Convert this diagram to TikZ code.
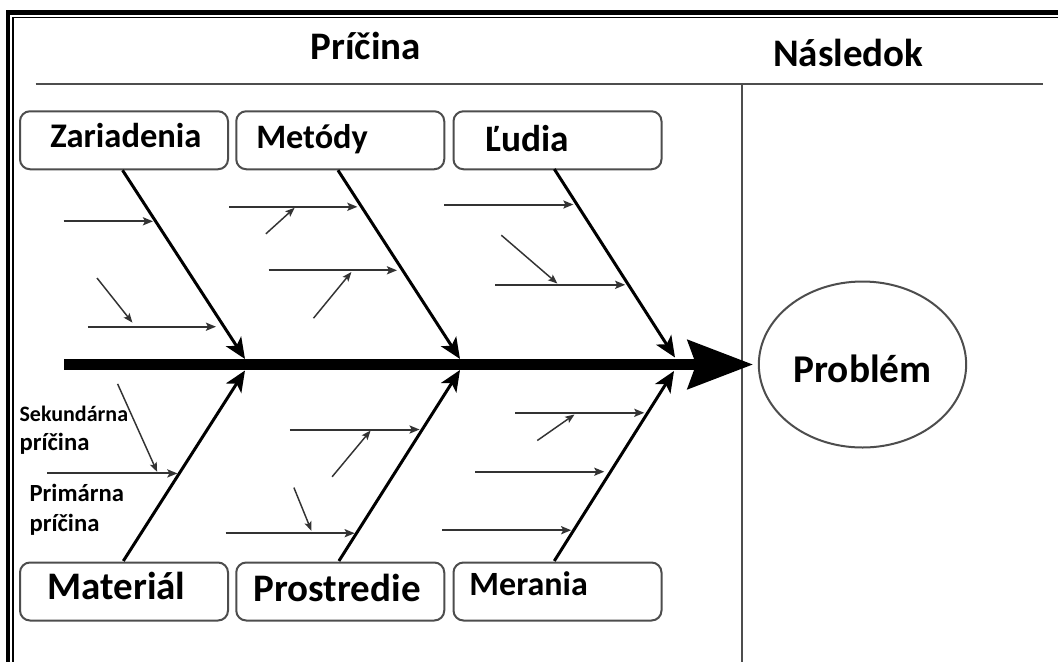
\documentclass[tikz,border=0pt]{standalone}
\usepackage{fontspec}
\setmainfont{Carlito}
\usetikzlibrary{arrows.meta,shapes.geometric}
\definecolor{boxgray}{HTML}{4D4D4D}
\definecolor{subgray}{HTML}{333333}
\begin{document}
\begin{tikzpicture}[x=0.75pt,y=-0.75pt,
  box/.style={draw=boxgray,line width=1.5pt,rounded corners=7.5pt,minimum width=156pt,minimum height=43.5pt,inner sep=0pt},
  lbl/.style={anchor=base west,inner sep=0pt,font=\bfseries},
  spine/.style={line width=2.25pt,-{Stealth[length=15.75pt,width=13.5pt,inset=4pt]}},
  sub/.style={draw=subgray,line width=1.5pt,-{Stealth[length=7.5pt,width=6pt,inset=1.5pt]}},
  sec/.style={draw=subgray,line width=1.1pt,-{Stealth[length=7pt,width=5.5pt,inset=1.5pt]}},
  rule/.style={draw=boxgray,line width=1.5pt}]
\useasboundingbox (0,0) rectangle (1058,662);
\fill[white] (0,0) rectangle (1058,662);
% frame
\draw[line width=3pt] (8,10) -- (8,662);
\draw[line width=3.75pt] (6,12.5) -- (1058,12.5);
\draw[line width=1.1pt] (13,17) -- (13,662);
\draw[line width=1.1pt] (12.3,17.5) -- (1058,17.5);
% headings
\node[anchor=base,inner sep=0pt,font=\bfseries\fontsize{29.25pt}{30pt}\selectfont] (pricina) at (365.7,59) {Príčina};
\node[anchor=base,inner sep=0pt,font=\bfseries\fontsize{29.25pt}{30pt}\selectfont] (nasledok) at (848.2,66.7) {Následok};
\coordinate (hl) at (35.5,84.3);
\coordinate (hr) at (1043,84.3);
\coordinate (vt) at (742,84.3);
\coordinate (vb) at (742,662);
\draw[rule] (hl) -- (hr);
\draw[rule] (vt) -- (vb);
% boxes
\node[box] (bZar) at (124,140.25) {};
\node[box] (bMet) at (340.25,140.25) {};
\node[box] (bLud) at (557.5,140.25) {};
\node[box] (bMat) at (124,591.5) {};
\node[box] (bPro) at (340.25,591.5) {};
\node[box] (bMer) at (557.5,591.5) {};
\node[lbl,font=\bfseries\fontsize{25.9pt}{27pt}\selectfont] (tZarl) at (50,147.5) {Zariadenia};
\node[lbl,font=\bfseries\fontsize{25.7pt}{27pt}\selectfont] (tMetl) at (256,148.5) {Metódy};
\node[lbl,font=\bfseries\fontsize{28pt}{29pt}\selectfont] (tLudl) at (485,151) {Ľudia};
\node[lbl,font=\bfseries\fontsize{29.25pt}{30pt}\selectfont] (tMatl) at (47.3,599.5) {Materiál};
\node[lbl,font=\bfseries\fontsize{29.25pt}{30pt}\selectfont] (tProl) at (253.4,601.8) {Prostredie};
\node[lbl,font=\bfseries\fontsize{25.5pt}{27pt}\selectfont] (tMerl) at (469.2,595.5) {Merania};
% problem
\node[ellipse,draw=boxgray,line width=1.5pt,minimum width=155.5pt,minimum height=124.5pt,inner sep=0pt] (prob) at (862.5,364.5) {};
\node[anchor=base,inner sep=0pt,font=\bfseries\fontsize{29.5pt}{30pt}\selectfont] (probt) at (862.5,382) {Problém};
% main arrow
\coordinate (mstart) at (64,364.5);
\draw[line width=8.25pt,-{Stealth[length=48.75pt,width=36pt,inset=6pt]},shorten >=3.5pt] (mstart) -- (prob.west);
% spine tips
\coordinate (tZar) at (245,359);
\coordinate (tMet) at (460,359);
\coordinate (tLud) at (675,357.5);
\coordinate (tMat) at (245,370.5);
\coordinate (tPro) at (460,370);
\coordinate (tMer) at (674,371);
\draw[spine] ([xshift=-1.1pt]bZar.south) -- (tZar);
\draw[spine] ([xshift=-1.7pt]bMet.south) -- (tMet);
\draw[spine] ([xshift=-2.4pt,yshift=0.9pt]bLud.south) -- (tLud);
\draw[spine] ([xshift=-0.5pt,yshift=0.4pt]bMat.north) -- (tMat);
\draw[spine] ([xshift=-1pt,yshift=0.4pt]bPro.north) -- (tPro);
\draw[spine] ([xshift=-2.4pt,yshift=0.4pt]bMer.north) -- (tMer);
% Zariadenia causes
\draw[sub] (63.5,221.3) coordinate (z1s) -- (153,221.3) coordinate (z1e);
\draw[sub] (87.8,326.7) coordinate (z2s) -- (216,326.7) coordinate (z2e);
\draw[sec] (97,278) coordinate (z3s) -- (132.4,322.6) coordinate (z3e);
% Metody causes
\draw[sub] (229,206.8) coordinate (m1s) -- (357.4,206.8) coordinate (m1e);
\draw[sec] (265.9,233.8) coordinate (m2s) -- (294.6,207.8) coordinate (m2e);
\draw[sub] (268.6,270.3) coordinate (m3s) -- (397,270.3) coordinate (m3e);
\draw[sec] (313.5,318.2) coordinate (m4s) -- (351.4,272) coordinate (m4e);
% Ludia causes
\draw[sub] (444,204.5) coordinate (l1s) -- (573.4,204.5) coordinate (l1e);
\draw[sec] (501.3,235.2) coordinate (l2s) -- (557.4,283.5) coordinate (l2e);
\draw[sub] (495.3,284.8) coordinate (l3s) -- (625.2,284.8) coordinate (l3e);
% Material causes
\draw[sec] (117.6,383.9) coordinate (a1s) -- (157.1,471.8) coordinate (a1e);
\draw[sub] (47.3,473.4) coordinate (a2s) -- (177.4,473.4) coordinate (a2e);
% Prostredie causes
\draw[sub] (289.9,429.5) coordinate (p1s) -- (419.6,429.5) coordinate (p1e);
\draw[sec] (332.1,476.8) coordinate (p2s) -- (370.6,430.5) coordinate (p2e);
\draw[sec] (293.9,487.6) coordinate (p3s) -- (311.5,530.9) coordinate (p3e);
\draw[sub] (225.7,533.2) coordinate (p4s) -- (354.7,533.2) coordinate (p4e);
% Merania causes
\draw[sub] (515.3,412.8) coordinate (r1s) -- (644.3,412.8) coordinate (r1e);
\draw[sec] (537.3,440.5) coordinate (r2s) -- (574.5,414.5) coordinate (r2e);
\draw[sub] (475.3,471.7) coordinate (r3s) -- (604.3,471.7) coordinate (r3e);
\draw[sub] (442,530.2) coordinate (r4s) -- (571.2,530.2) coordinate (r4e);
% legend texts
\node[lbl,font=\bfseries\fontsize{16.5pt}{18pt}\selectfont] (sek1) at (19.3,421.7) {Sekundárna};
\node[lbl,font=\bfseries\fontsize{18.5pt}{20pt}\selectfont] (sek2) at (19.3,450) {príčina};
\node[lbl,font=\bfseries\fontsize{18.5pt}{20pt}\selectfont] (pri1) at (29.3,501.7) {Primárna};
\node[lbl,font=\bfseries\fontsize{18.5pt}{20pt}\selectfont] (pri2) at (29.3,531.7) {príčina};
\end{tikzpicture}
\end{document}
